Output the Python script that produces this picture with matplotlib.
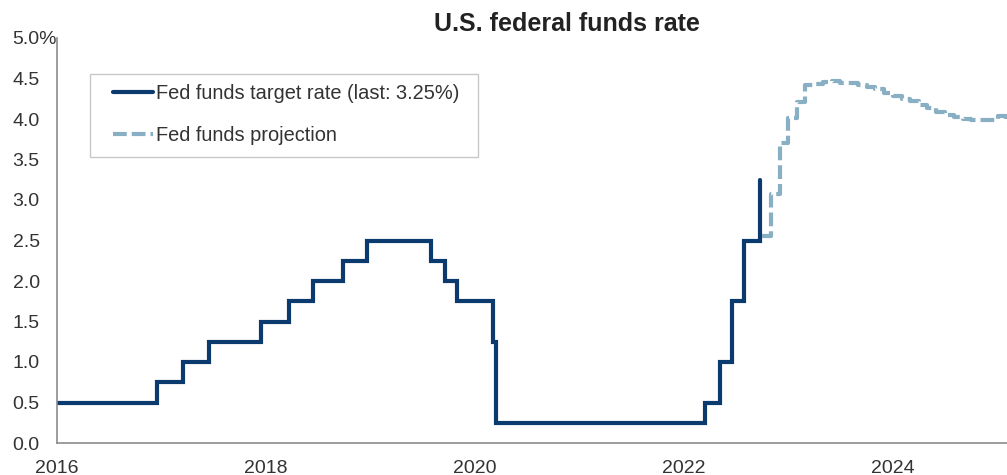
import numpy as np
import pandas as pd
import matplotlib
matplotlib.use('Agg')
import matplotlib.pyplot as plt
import matplotlib.dates as mdates
from matplotlib.patches import Rectangle

plt.rcParams['font.family'] = ['Liberation Sans', 'DejaVu Sans']

# Fed funds target rate (upper bound), change dates
target_dates = ['2016-01-01', '2016-12-15', '2017-03-16', '2017-06-15', '2017-12-14',
                '2018-03-22', '2018-06-14', '2018-09-27', '2018-12-20', '2019-08-01',
                '2019-09-19', '2019-10-31', '2020-03-04', '2020-03-16', '2022-03-17',
                '2022-05-05', '2022-06-16', '2022-07-28', '2022-09-22']
target_rates = [0.50, 0.75, 1.00, 1.25, 1.50,
                1.75, 2.00, 2.25, 2.50, 2.25,
                2.00, 1.75, 1.25, 0.25, 0.50,
                1.00, 1.75, 2.50, 3.25]

# monthly projection, Oct 2022 .. Feb 2025
proj_start = '2022-10-01'
proj_rates = [2.55, 3.08, 3.70, 4.01, 4.21, 4.42, 4.43, 4.46, 4.47, 4.45,
              4.44, 4.42, 4.40, 4.37, 4.32, 4.28, 4.25, 4.22, 4.17, 4.13,
              4.09, 4.05, 4.02, 4.00, 3.99, 3.99, 3.99, 4.04, 3.95]

y_ticks = np.arange(0, 5.01, 0.5)
y_labels = ['0.0', '0.5', '1.0', '1.5', '2.0', '2.5', '3.0', '3.5', '4.0', '4.5', '5.0%']

navy = '#0b3a6e'
light = '#88afc3'
txt = '#333333'

W, H = 1007, 475
fig = plt.figure(figsize=(W / 100, H / 100), dpi=100)
ax = fig.add_axes([57 / W, 32 / H, 950 / W, 405 / H])

t_dates = pd.to_datetime(target_dates)
ax.plot(t_dates, target_rates, drawstyle='steps-post', color=navy, lw=3,
        solid_capstyle='round', solid_joinstyle='miter',
        label='Fed funds target rate (last: 3.25%)')

p_dates = pd.date_range(proj_start, periods=len(proj_rates) + 1, freq='MS')
p_vals = proj_rates + [proj_rates[-1]]
ax.plot(p_dates, p_vals, drawstyle='steps-post', color=light, lw=3,
        dashes=(3.3, 1.2), label='Fed funds projection')

ax.set_xlim(pd.Timestamp('2016-01-01'), pd.Timestamp('2025-02-03'))
ax.set_ylim(0, 5.0)
ax.xaxis.set_major_locator(mdates.YearLocator(2))
ax.xaxis.set_major_formatter(mdates.DateFormatter('%Y'))
ax.set_yticks(y_ticks)
ax.set_yticklabels(y_labels)

ax.tick_params(axis='both', length=0, labelsize=14, colors=txt)
ax.tick_params(axis='y', pad=32)
ax.tick_params(axis='x', pad=12)
for lab in ax.get_yticklabels():
    lab.set_horizontalalignment('left')

for s in ['top', 'right']:
    ax.spines[s].set_visible(False)
for s in ['left', 'bottom']:
    ax.spines[s].set_color('#8c8c8c')
    ax.spines[s].set_linewidth(1.2)

# legend box drawn separately (wide side padding)
fig.patches.append(Rectangle((89.5 / W, 1 - 156.5 / H), (478 - 89.5) / W, (156.5 - 74) / H,
                             transform=fig.transFigure, fill=False,
                             edgecolor='#c8c8c8', lw=1.0))
leg = ax.legend(loc='upper left', bbox_to_anchor=(113 / W, 1 - 84 / H),
                bbox_transform=fig.transFigure, fontsize=14.4, frameon=False,
                handlelength=2.0, handletextpad=0.15, borderpad=0,
                labelspacing=1.15, borderaxespad=0, labelcolor=txt)

fig.text(567 / W, 1 - 24 / H, 'U.S. federal funds rate', ha='center', va='center',
         fontsize=18, fontweight='bold', color='#222222')

fig.savefig('out.png', dpi=100)
